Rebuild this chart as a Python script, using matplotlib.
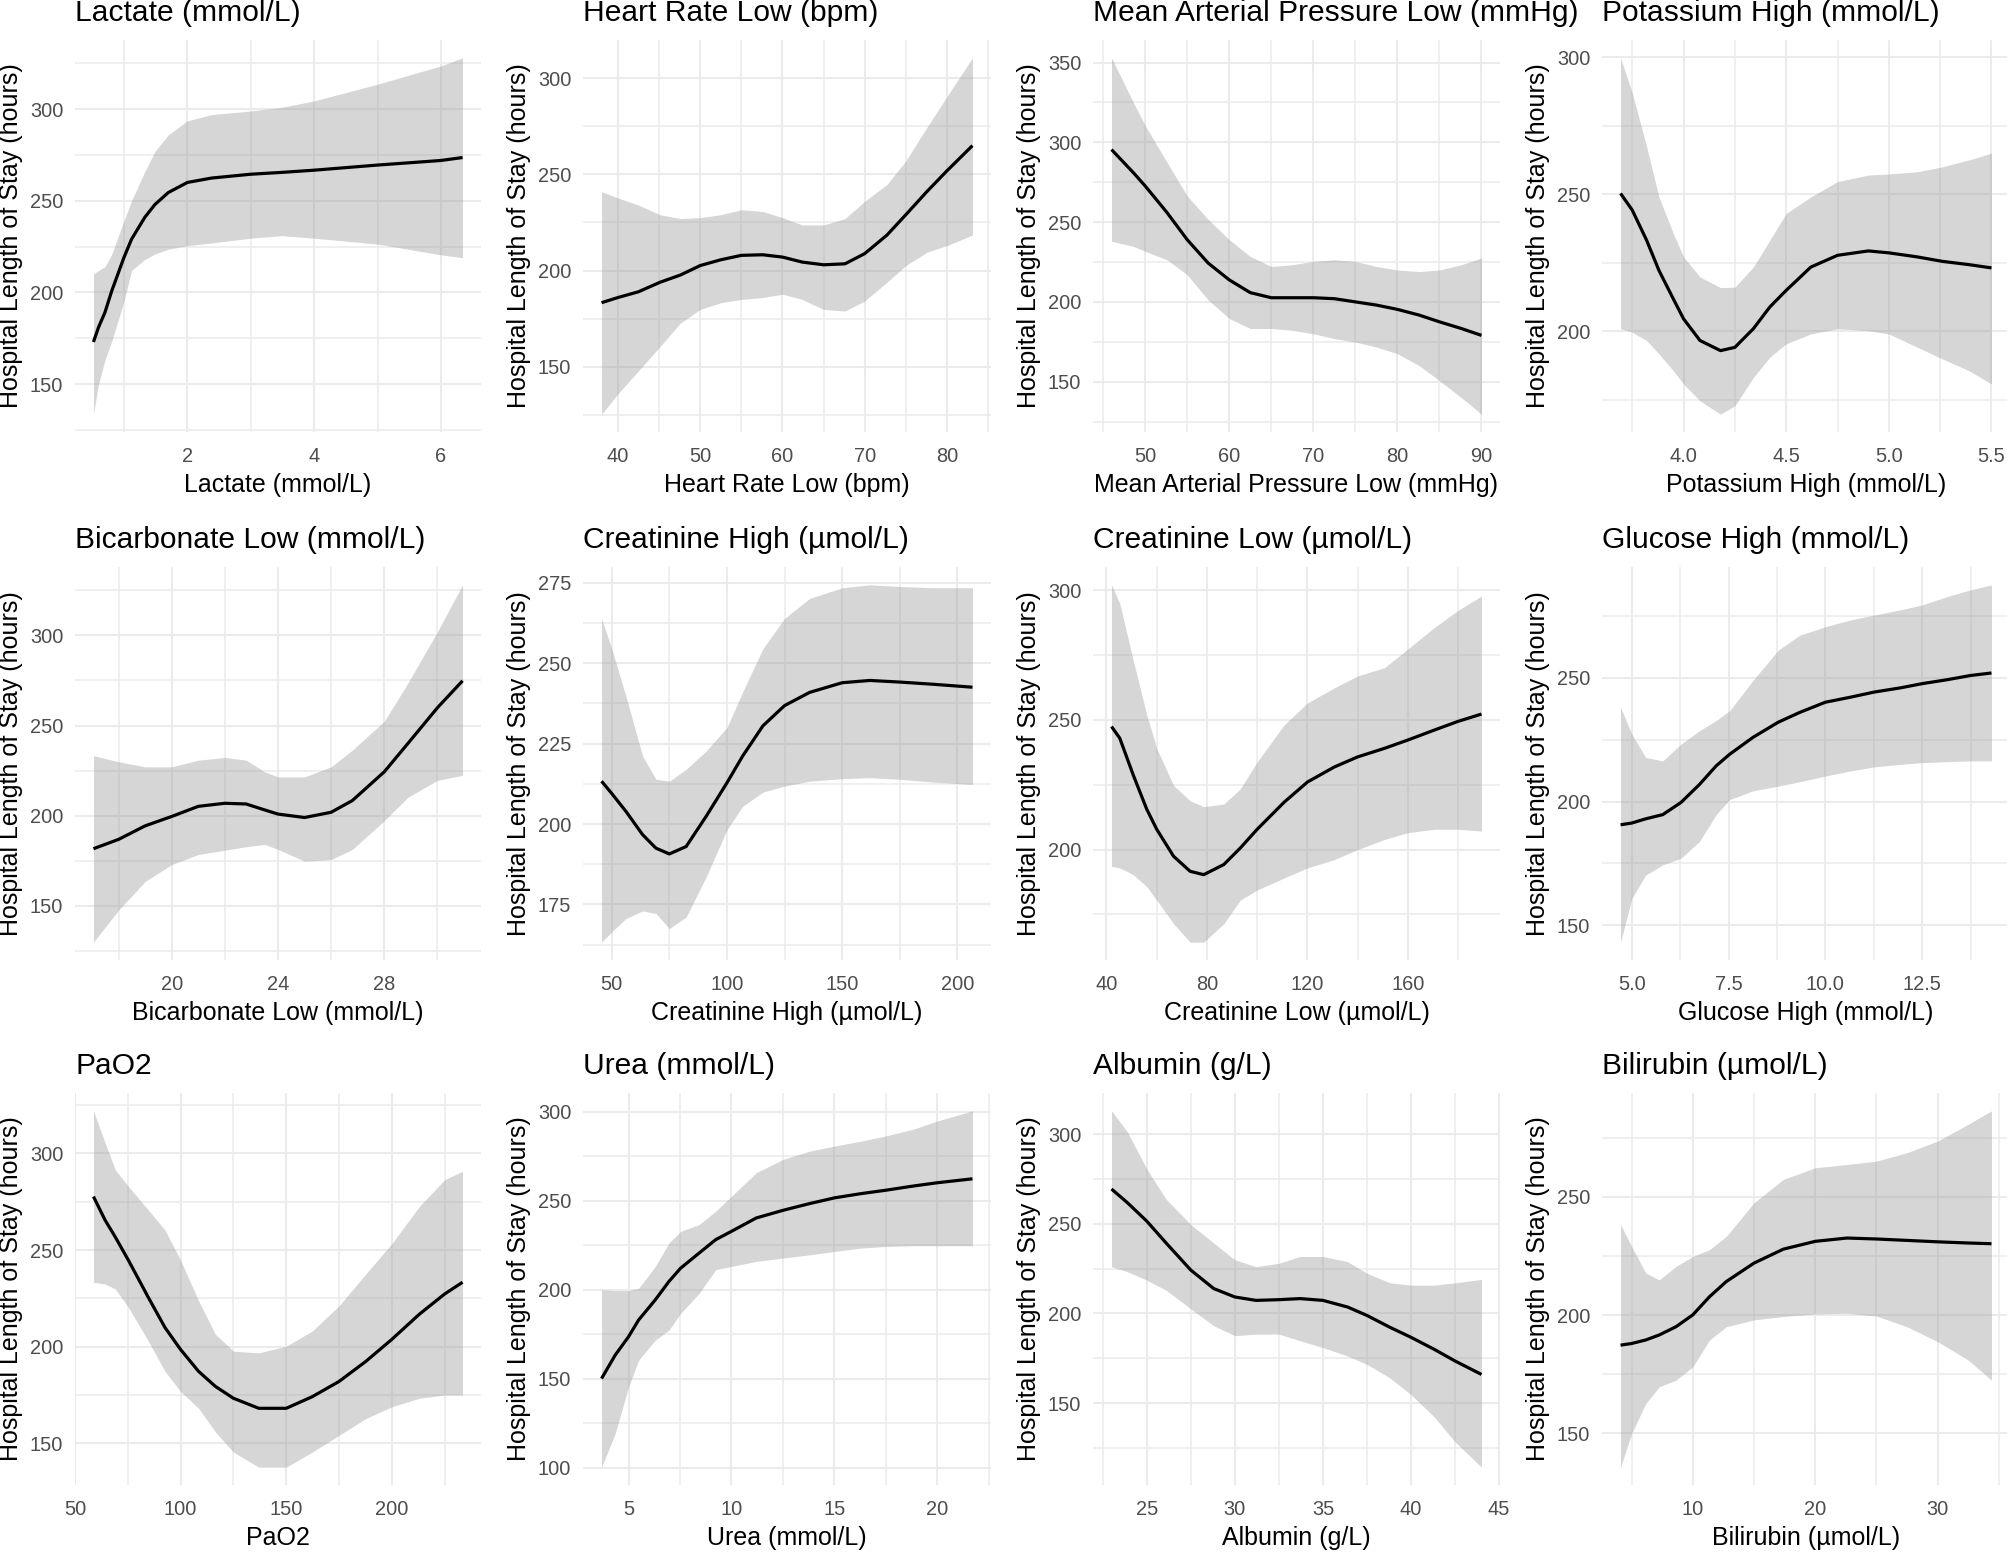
"""
Hospital length of stay vs. 12 clinical variables (smoothed fit with 95% band)
"""

import matplotlib
matplotlib.use('Agg')
import matplotlib.pyplot as plt
from matplotlib.ticker import MultipleLocator

plt.rcParams['font.family'] = ['Liberation Sans', 'DejaVu Sans']

# ---- data (fit, lower / upper band) ----
lactate_x = [0.52, 0.60, 0.70, 0.81, 1.0, 1.12, 1.33, 1.49, 1.70, 2.0, 2.38, 3.0, 3.49, 4.0, 5.0, 6.0, 6.34]
lactate_fit = [173, 181, 189, 201, 219, 229, 241, 248, 254.5, 260, 262.4, 264.5, 265.5, 266.7, 269.5, 272, 273.6]
lactate_lo = [133.6, 150, 163, 173.6, 195, 212, 218, 221, 223.6, 225.5, 227, 229.6, 231, 229.6, 226.4, 220.5, 219]
lactate_hi = [210, 212, 214, 221, 239, 250, 266, 277, 286, 293.6, 297, 299, 301, 304.5, 313.6, 323.6, 328]

hr_x = [38.0, 40, 42.5, 45.1, 47.6, 50, 52.5, 55, 57.6, 60, 62.4, 65, 67.6, 70, 72.7, 75, 77.6, 80, 83.1]
hr_fit = [183.3, 186, 189, 193.9, 197.7, 202.6, 205.6, 207.9, 208.2, 207, 204.4, 203, 203.5, 208.8, 218.4, 229, 241.2, 251.8, 264.9]
hr_lo = [125.4, 136, 148, 160.5, 172.8, 179.8, 183.3, 185, 186, 187.7, 185, 179.8, 179, 184.2, 193.9, 202.6, 209.6, 213, 218.4]
hr_hi = [241, 237.7, 234, 229, 227, 227.5, 229, 231.6, 230.7, 227.5, 223.7, 223.7, 227, 236, 244.7, 257, 274.6, 290.4, 310.5]

map_x = [46, 48.6, 50, 52.6, 55, 57.5, 60, 62.5, 65, 67.5, 70, 72.5, 75, 77.5, 80, 82.6, 85, 87.6, 90]
map_fit = [295.5, 281, 272.7, 256, 239, 224.3, 213.8, 205.8, 202.6, 202.6, 202.6, 202, 200, 198, 195.3, 191.7, 187.5, 183.3, 179]
map_lo = [238, 234.8, 231.7, 226.4, 217, 201.2, 189.6, 183.3, 183.3, 182.2, 180, 177, 174.8, 171.7, 167.5, 160, 150.6, 140, 129.6]
map_hi = [353, 325, 310.6, 287.5, 266.4, 251.7, 239, 228.5, 222.2, 223.3, 225.4, 226.4, 225.4, 222.2, 220, 219, 220, 223.3, 227.5]

k_x = [3.693, 3.75, 3.82, 3.88, 3.95, 4.0, 4.08, 4.18, 4.25, 4.34, 4.42, 4.5, 4.62, 4.75, 4.90, 5.0, 5.14, 5.26, 5.39, 5.5]
k_fit = [250.3, 244.2, 233.2, 222.2, 211.8, 204.5, 196.6, 192.9, 194.1, 200.9, 208.8, 214.9, 223.4, 227.7, 229.3, 228.6, 227.1, 225.5, 224.3, 223.1]
k_lo = [200.9, 199.6, 196.6, 191.7, 185.6, 180.7, 174.6, 169.7, 172.8, 183.1, 190.5, 195.4, 199, 200.9, 200.2, 199, 194.1, 189.9, 185.6, 180.7]
k_hi = [299.8, 287, 267.4, 249, 235.7, 227.1, 219.8, 215.9, 216.1, 223.4, 233.2, 243, 249, 254.6, 257, 257.4, 258.2, 260, 262.5, 265]

bic_x = [17.05, 18, 19.0, 20, 21.0, 22, 22.8, 23.5, 24, 25.0, 26, 26.8, 28, 28.9, 30, 30.95]
bic_fit = [181.7, 186.9, 194.4, 199.6, 205.2, 206.9, 206.5, 203.2, 200.9, 199, 201.9, 208.4, 224.3, 240.2, 259.8, 274.8]
bic_lo = [129.9, 147.7, 163.6, 172.9, 178.5, 180.9, 182.8, 184.1, 181.3, 174.8, 175.7, 181.3, 197.2, 210.3, 219.6, 222.4]
bic_hi = [233.3, 229.9, 227.1, 227.1, 230.8, 232.3, 230.8, 224.3, 221.5, 221.5, 227.1, 236.4, 252.3, 273.8, 301.9, 328]

crh_x = [45.6, 50, 56.1, 63.4, 69.2, 75, 82.3, 91, 100, 106.8, 115.6, 125, 135.9, 150, 162, 175, 189.8, 206.5]
crh_fit = [213.3, 209.5, 204, 196.7, 192.5, 190.7, 193, 202.4, 212.8, 221.1, 230.5, 236.8, 240.9, 243.9, 244.6, 244.1, 243.4, 242.5]
crh_lo = [163.3, 166.5, 170.6, 173, 172.2, 167.5, 171.1, 183.6, 198.2, 205.5, 209.9, 211.8, 213.3, 214.1, 214.4, 213.9, 213, 212.3]
crh_hi = [263.9, 254.5, 239.9, 221.1, 213.9, 213.3, 217, 222.7, 230, 241, 254.5, 263.9, 270.1, 273.4, 274.3, 273.8, 273.4, 273.4]

crl_x = [42, 45.3, 50.7, 56, 60, 66.7, 73.3, 78.7, 86.7, 93.3, 100, 110.7, 120, 130.7, 140, 150.7, 160, 170.7, 180, 189.3]
crl_fit = [247.4, 242.9, 228.6, 215.6, 207.8, 197.4, 191.6, 190.3, 194.2, 200.6, 207.8, 218.2, 226, 231.8, 235.7, 239, 242.2, 246.1, 249.4, 252.2]
crl_lo = [193.5, 192.9, 190.3, 185.7, 180.5, 171.4, 164.3, 164.3, 171.4, 180.5, 184.4, 189, 192.9, 196.1, 200, 203.9, 206.5, 207.8, 207.8, 207.1]
crl_hi = [302, 294.8, 272.7, 252, 239, 224.7, 218.8, 216.5, 217.5, 223.4, 233.8, 248, 256.5, 262.3, 266.9, 270.1, 277.3, 285.7, 292.2, 297.7]

glu_x = [4.71, 5.0, 5.36, 5.8, 6.27, 6.75, 7.18, 7.53, 8.13, 8.78, 9.34, 10.0, 10.64, 11.26, 11.94, 12.5, 13.15, 13.75, 14.29]
glu_fit = [190.6, 191.3, 193, 194.7, 199.6, 206.9, 214.4, 219.1, 225.9, 232, 236, 240.1, 242.1, 244.2, 245.9, 247.6, 249.2, 250.9, 251.9]
glu_lo = [143.2, 160.8, 170.3, 174.4, 177.1, 183.9, 194.7, 200.8, 204.3, 206.2, 208, 210.3, 212.3, 214, 215, 215.7, 216.1, 216.4, 216.4]
glu_hi = [238.1, 227.2, 217.8, 216.4, 223.2, 228.6, 232.7, 236.7, 248.9, 261.1, 267.2, 270.6, 273.3, 275.3, 277.4, 279.4, 282.8, 285.5, 287.5]

pao2_x = [58.7, 64.2, 69, 75.3, 84.7, 92.6, 100, 108.5, 116.5, 125, 137, 150, 162.3, 175, 187.7, 200, 213, 225, 233.5]
pao2_fit = [277.7, 265.5, 256.8, 244.6, 225.4, 209.8, 198.4, 187.1, 179.3, 173.2, 168, 168, 174, 181.9, 192.3, 203.7, 216.7, 227.2, 233.3]
pao2_lo = [233.3, 232.4, 229.8, 220.2, 202.8, 187.1, 176.7, 168, 155.7, 145.3, 137.5, 137.5, 145.3, 154, 162.7, 168.8, 173.2, 174.9, 174.9]
pao2_hi = [322.1, 305.6, 291.6, 282.9, 270.7, 260.3, 244.6, 223.7, 206.3, 197.6, 196.7, 200.2, 208, 221.1, 237.6, 253.3, 272.5, 286.4, 290.8]

urea_x = [3.69, 4.35, 5.0, 5.49, 6.3, 6.96, 7.53, 8.43, 9.23, 10, 11.2, 12.5, 13.8, 15, 16.3, 17.5, 18.8, 20, 21.7]
urea_fit = [150.2, 163.3, 173.7, 183.1, 194.4, 204.7, 212.2, 220.7, 228.2, 232.9, 240.4, 244.7, 248.5, 251.7, 254.1, 256, 258.3, 260.2, 262.4]
urea_lo = [100.4, 119.2, 145.5, 160.5, 171.8, 177.4, 186.8, 198.1, 211.3, 213.2, 216, 217.9, 219.7, 221.6, 223.5, 224.4, 224.8, 224.8, 224.8]
urea_hi = [200, 199.6, 199.6, 200.9, 213.2, 226.3, 232.9, 236.7, 244.2, 252.6, 265.8, 273.3, 278, 280.8, 283.6, 286.5, 290.2, 294.9, 300.6]

alb_x = [23.0, 23.9, 25, 26.1, 27.5, 28.8, 30, 31.2, 32.5, 33.7, 35, 36.4, 37.5, 38.8, 40, 41.3, 42.5, 44.0]
alb_fit = [269.4, 261.8, 251.5, 239.3, 224.2, 213.9, 209.2, 207.3, 207.7, 208.3, 207.3, 203.6, 198.9, 192.3, 186.7, 180.1, 173.5, 166]
alb_lo = [226.1, 223.3, 218.6, 213, 202.6, 193.2, 187.6, 188.5, 188.5, 184.8, 181, 176.3, 171.6, 164.1, 154.7, 142.5, 128.4, 114.3]
alb_hi = [313, 301.3, 280.6, 263.7, 249.6, 239.3, 229.9, 226.1, 228, 231.8, 231.8, 228.9, 222.4, 217.1, 215.8, 215.8, 217.1, 219]

bili_x = [4.1, 5, 6.16, 7.26, 8.63, 10, 11.37, 12.74, 15, 17.4, 20, 22.6, 25, 27.5, 30, 32.5, 34.4]
bili_fit = [187.3, 188, 189.5, 191.6, 195.1, 200.1, 207.8, 214.2, 222, 227.9, 231.2, 232.6, 232.2, 231.6, 231, 230.5, 230.2]
bili_lo = [135.7, 149.9, 162.6, 169.7, 172.5, 178.1, 189.5, 195.1, 198, 199.4, 200.5, 200.8, 199.6, 195.1, 188.8, 181, 172.5]
bili_hi = [238.3, 229.1, 217.8, 214.9, 220.6, 224.8, 227.7, 233.3, 247.5, 257.4, 262.3, 263.7, 265.1, 268.7, 273.6, 280.7, 286.4]

titles = ['Lactate (mmol/L)', 'Heart Rate Low (bpm)', 'Mean Arterial Pressure Low (mmHg)',
          'Potassium High (mmol/L)', 'Bicarbonate Low (mmol/L)', 'Creatinine High (µmol/L)',
          'Creatinine Low (µmol/L)', 'Glucose High (mmol/L)', 'PaO2', 'Urea (mmol/L)',
          'Albumin (g/L)', 'Bilirubin (µmol/L)']

series = [
    (lactate_x, lactate_fit, lactate_lo, lactate_hi),
    (hr_x, hr_fit, hr_lo, hr_hi),
    (map_x, map_fit, map_lo, map_hi),
    (k_x, k_fit, k_lo, k_hi),
    (bic_x, bic_fit, bic_lo, bic_hi),
    (crh_x, crh_fit, crh_lo, crh_hi),
    (crl_x, crl_fit, crl_lo, crl_hi),
    (glu_x, glu_fit, glu_lo, glu_hi),
    (pao2_x, pao2_fit, pao2_lo, pao2_hi),
    (urea_x, urea_fit, urea_lo, urea_hi),
    (alb_x, alb_fit, alb_lo, alb_hi),
    (bili_x, bili_fit, bili_lo, bili_hi),
]

# major break spacing (x, y) for each panel
x_steps = [2, 10, 10, 0.5, 4, 50, 40, 2.5, 50, 5, 5, 10]
y_steps = [50, 50, 50, 50, 50, 25, 50, 50, 50, 50, 50, 50]

# ---- figure layout (pixel positions of panels) ----
W, H = 2008, 1552
fig = plt.figure(figsize=(W / 100, H / 100), dpi=100)
fig.patch.set_facecolor('white')

col_left = [75, 583, 1093, 1602]
col_right = [481, 991, 1500, 2010]
row_top = [40, 567, 1093]
row_bottom = [432, 960, 1485]

grid_col = '#EBEBEB'

for i, (x, fit, lo, hi) in enumerate(series):
    r, c = divmod(i, 4)
    ax = fig.add_axes([col_left[c] / W, 1 - row_bottom[r] / H,
                       (col_right[c] - col_left[c]) / W, (row_bottom[r] - row_top[r]) / H])

    ax.fill_between(x, lo, hi, color='#999999', alpha=0.4, linewidth=0, zorder=2)
    ax.plot(x, fit, color='black', linewidth=2.3, zorder=3, solid_capstyle='butt')
    ax.margins(x=0.05, y=0.05)

    ax.xaxis.set_major_locator(MultipleLocator(x_steps[i]))
    ax.xaxis.set_minor_locator(MultipleLocator(x_steps[i] / 2))
    ax.yaxis.set_major_locator(MultipleLocator(y_steps[i]))
    ax.yaxis.set_minor_locator(MultipleLocator(y_steps[i] / 2))

    ax.grid(which='major', color=grid_col, linewidth=1.5, zorder=0)
    ax.grid(which='minor', color=grid_col, linewidth=1.1, zorder=0)
    ax.set_axisbelow(True)
    for s in ax.spines.values():
        s.set_visible(False)

    ax.tick_params(which='both', length=0)
    ax.tick_params(axis='x', labelsize=14.4, labelcolor='#4D4D4D', pad=11)
    ax.tick_params(axis='y', labelsize=14.4, labelcolor='#4D4D4D', pad=8.5)

    ax.set_title(titles[i], loc='left', fontsize=21.6, color='black', pad=14)
    ax.set_xlabel(titles[i], fontsize=18, color='black', labelpad=5)
    ax.set_ylabel('Hospital Length of Stay (hours)', fontsize=18, color='black', labelpad=5)

fig.savefig('out.png', dpi=100, facecolor='white')
